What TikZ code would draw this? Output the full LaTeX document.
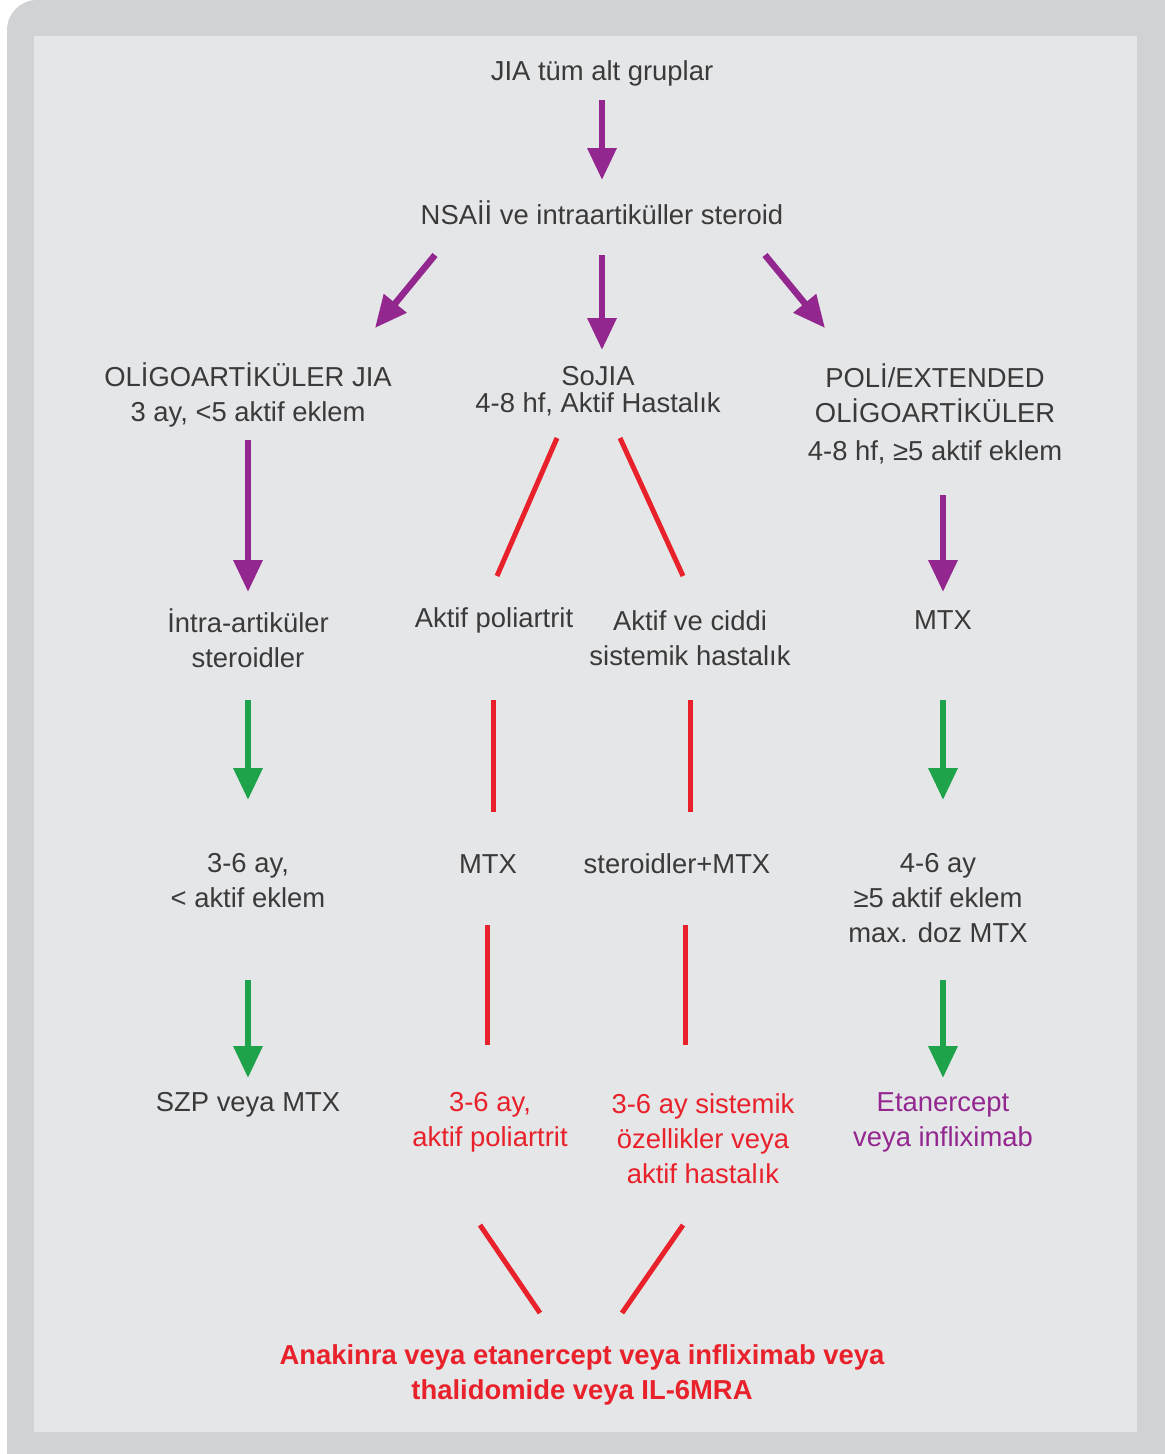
\documentclass[tikz,border=0pt]{standalone}
\usepackage{fontspec}
\setmainfont{Liberation Sans}
\usepackage{xcolor}
\usetikzlibrary{arrows.meta}
\definecolor{framegray}{HTML}{D1D2D4}
\definecolor{panelgray}{HTML}{E5E6E8}
\definecolor{txtgray}{HTML}{3A3A3A}
\definecolor{jpurple}{HTML}{93278F}
\definecolor{jgreen}{HTML}{1FA34A}
\definecolor{jred}{HTML}{E8212B}
\tikzstyle{lbl} = [align=center, inner sep=0pt, text=txtgray, font=\fontsize{15.6}{19.9}\selectfont]
\tikzstyle{redlbl} = [lbl, text=jred]
\tikzstyle{purplbl} = [lbl, text=jpurple]
\tikzstyle{finallbl} = [redlbl, font=\fontsize{15.6}{19.9}\selectfont\bfseries]
\tikzstyle{parrow} = [jpurple, line width=0.13cm, -{Triangle[length=0.64cm,width=0.56cm]}]
\tikzstyle{garrow} = [parrow, jgreen]
\tikzstyle{redline} = [jred, line width=0.1cm]

\begin{document}
\begin{tikzpicture}[x=0.02cm, y=-0.02cm]
    \useasboundingbox (0,0) rectangle (1165,1454);
    \clip (0,0) rectangle (1165,1454);
    % frame
    \fill[framegray, rounded corners=0.6cm] (7,0) rectangle (1220,1500);
    \fill[panelgray] (34,36) rectangle (1137,1432);

    % top
    \node[lbl] (top) at (602,73) {JIA tüm alt gruplar};
    \node[lbl] (nsaid) at (602,213) {NSAİİ ve intraartiküller steroid};

    % three groups
    \node[lbl] (oligo) at (248,395) {OLİGOARTİKÜLER JIA\\3 ay, <5 aktif eklem};
    \node[lbl] (sojia) at (598,391) {SoJIA\\[-4.5pt]4-8 hf, Aktif Hastalık};
    \node[lbl] (poly) at (935,414) {POLİ/EXTENDED\\OLİGOARTİKÜLER\\[1.5pt]4-8 hf, ≥5 aktif eklem};

    % second row
    \node[lbl] (intra) at (248,638) {İntra-artiküler\\steroidler};
    \node[lbl] (apoli) at (494,620) {Aktif poliartrit};
    \node[lbl] (asys) at (690,638) {Aktif ve ciddi\\sistemik hastalık};
    \node[lbl] (mtx1) at (943,620) {MTX};

    % third row
    \node[lbl] (lt1) at (248,881) {3-6 ay,\\< aktif eklem};
    \node[lbl] (mtx2) at (488,864) {MTX};
    \node[lbl] (stmtx) at (677,864) {steroidler+MTX};
    \node[lbl] (rt1) at (938,898) {4-6 ay\\≥5 aktif eklem\\max. doz MTX};

    % fourth row
    \node[lbl] (szp) at (248,1105) {SZP veya MTX};
    \node[redlbl] (red1) at (490,1122) {3-6 ay,\\aktif poliartrit};
    \node[redlbl] (red2) at (703,1139) {3-6 ay sistemik\\özellikler veya\\aktif hastalık};
    \node[purplbl] (eta) at (943,1122) {Etanercept\\veya infliximab};

    \node[finallbl] (final) at (582,1375) {Anakinra veya etanercept veya infliximab veya\\thalidomide veya IL-6MRA};

    % purple arrows
    \draw[parrow] ([shift={(0,27)}]top.center) -- ([shift={(0,-33)}]nsaid.center);
    \draw[parrow] ([shift={(-167,42)}]nsaid.center) -- ([shift={(127,-67)}]oligo.center);
    \draw[parrow] ([shift={(0,42)}]nsaid.center) -- ([shift={(4,-41)}]sojia.center);
    \draw[parrow] ([shift={(163,42)}]nsaid.center) -- ([shift={(-110,-86)}]poly.center);
    \draw[parrow] ([shift={(0,45)}]oligo.center) -- ([shift={(0,-46)}]intra.center);
    \draw[parrow] ([shift={(8,81)}]poly.center) -- ([shift={(0,-28)}]mtx1.center);

    % red lines
    \draw[redline] ([shift={(-41,47)}]sojia.center) -- ([shift={(3,-44)}]apoli.center);
    \draw[redline] ([shift={(22,47)}]sojia.center) -- ([shift={(-7,-62)}]asys.center);
    \draw[redline] ([shift={(-1,80)}]apoli.center) -- ([shift={(5,-52)}]mtx2.center);
    \draw[redline] ([shift={(0,62)}]asys.center) -- ([shift={(13,-52)}]stmtx.center);
    \draw[redline] ([shift={(-1,61)}]mtx2.center) -- ([shift={(-3,-77)}]red1.center);
    \draw[redline] ([shift={(8,61)}]stmtx.center) -- ([shift={(-18,-94)}]red2.center);
    \draw[redline] ([shift={(-10,103)}]red1.center) -- ([shift={(-42,-62)}]final.center);
    \draw[redline] ([shift={(-20,86)}]red2.center) -- ([shift={(40,-62)}]final.center);

    % green arrows
    \draw[garrow] ([shift={(0,62)}]intra.center) -- ([shift={(0,-81)}]lt1.center);
    \draw[garrow] ([shift={(0,80)}]mtx1.center) -- ([shift={(5,-98)}]rt1.center);
    \draw[garrow] ([shift={(0,99)}]lt1.center) -- ([shift={(0,-27)}]szp.center);
    \draw[garrow] ([shift={(5,82)}]rt1.center) -- ([shift={(0,-44)}]eta.center);
\end{tikzpicture}
\end{document}
